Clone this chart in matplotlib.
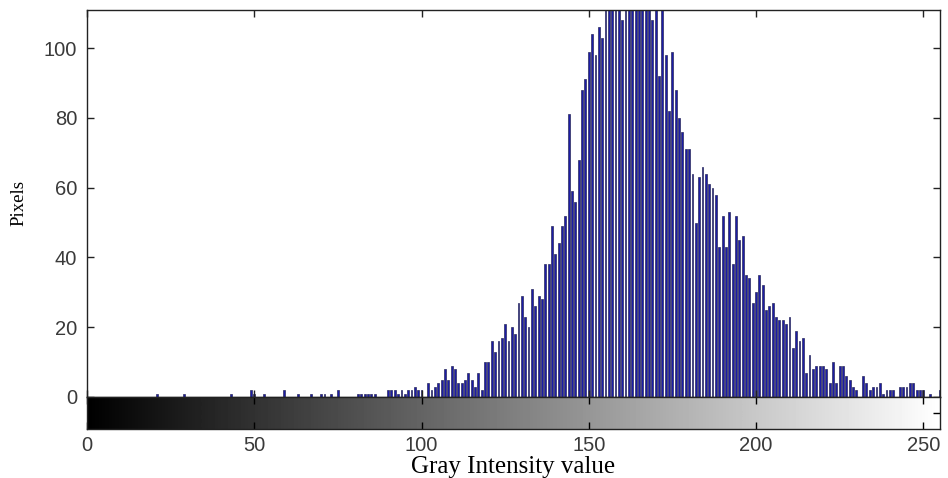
import matplotlib
matplotlib.use("Agg")
import matplotlib.pyplot as plt
import numpy as np

# histogram counts for gray levels 0..255
counts = [
    0, 0, 0, 0, 0, 0, 0, 0, 0, 0, 0, 0, 0, 0, 0, 0,
    0, 0, 0, 0, 0, 1, 0, 0, 0, 0, 0, 0, 0, 1, 0, 0,
    0, 0, 0, 0, 0, 0, 0, 0, 0, 0, 0, 1, 0, 0, 0, 0,
    0, 2, 1, 0, 0, 1, 0, 0, 0, 0, 0, 2, 0, 0, 0, 1,
    0, 0, 0, 1, 0, 0, 1, 1, 0, 1, 0, 2, 0, 0, 0, 0,
    0, 1, 1, 1, 1, 1, 1, 0, 0, 0, 2, 2, 2, 1, 2, 1,
    2, 2, 3, 2, 2, 0, 4, 2, 3, 4, 5, 8, 5, 9, 8, 4,
    4, 5, 7, 5, 3, 7, 2, 10, 10, 16, 13, 16, 17, 21, 16, 20,
    18, 27, 29, 23, 20, 31, 26, 29, 28, 38, 38, 49, 41, 44, 49, 52,
    81, 59, 56, 68, 88, 91, 99, 104, 98, 106, 103, 116, 119, 114, 118, 121,
    108, 124, 121, 117, 126, 119, 115, 118, 113, 108, 117, 92, 114, 98, 82, 99,
    88, 80, 76, 71, 71, 64, 50, 63, 66, 64, 61, 60, 58, 43, 52, 43,
    53, 38, 52, 45, 46, 35, 34, 27, 30, 35, 32, 25, 26, 27, 23, 22,
    22, 21, 23, 14, 19, 16, 17, 7, 12, 8, 9, 9, 9, 8, 4, 10,
    4, 9, 9, 6, 5, 3, 2, 0, 6, 4, 2, 3, 3, 4, 1, 2,
    2, 2, 0, 3, 3, 3, 4, 4, 2, 2, 2, 0, 1, 0, 0, 2,
]
levels = np.arange(256)
x_ticks = [0, 50, 100, 150, 200, 250]
y_ticks = [0, 20, 40, 60, 80, 100]

plt.rcParams["font.family"] = "Liberation Sans"

fig = plt.figure(figsize=(9.48, 4.78), dpi=100)
W, H = 948.0, 478.0
left, right = 87 / W, 940 / W
ax = fig.add_axes([left, 1 - 397 / H, right - left, (397 - 10) / H])
cax = fig.add_axes([left, 1 - 429 / H, right - left, (429 - 397) / H])

ax.bar(levels, counts, width=0.56, color="#1c1ca6", edgecolor="#2a2a5c",
       linewidth=0.5, align="center")
ax.set_xlim(0, 255)
ax.set_ylim(0, 110.9)
ax.set_xticks(x_ticks)
ax.set_xticklabels([])
ax.set_yticks(y_ticks)
ax.tick_params(direction="in", length=5, width=1, top=True, right=True,
               labelsize=14.5, colors="#222222", labelcolor="#3a3a3a", pad=7)
for s in ax.spines.values():
    s.set_color("#222222")
    s.set_linewidth(1)
ax.set_ylabel("Pixels", family="Liberation Serif", fontsize=13.5, labelpad=12)

# gray level ramp under the histogram
ramp = np.linspace(0, 1, 256).reshape(1, -1)
cax.imshow(ramp, cmap="gray", aspect="auto", extent=[0, 255, 0, 1],
           interpolation="bilinear")
cax.set_xlim(0, 255)
cax.set_ylim(0, 1)
cax.set_xticks(x_ticks)
cax.set_yticks([0.5])
cax.set_yticklabels([])
cax.tick_params(direction="in", length=5, width=1, top=True, left=False,
                right=True, labelsize=14.5, labelcolor="#3a3a3a", pad=5)
for s in cax.spines.values():
    s.set_color("#222222")
    s.set_linewidth(1)
cax.set_xlabel("Gray Intensity value", family="Liberation Serif",
               fontsize=18, labelpad=1)

fig.savefig("out.png", dpi=100)
